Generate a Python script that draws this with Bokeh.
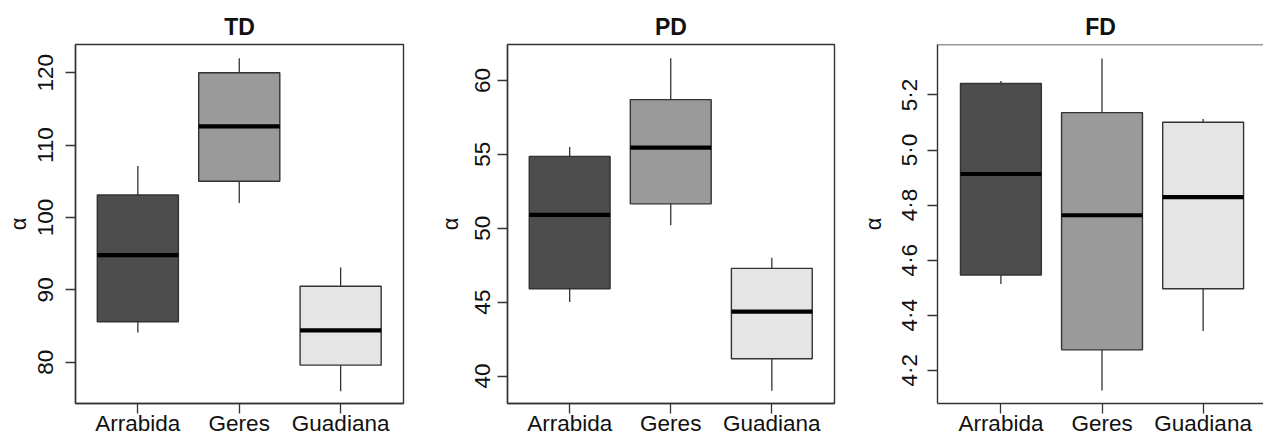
from bokeh.plotting import figure
from bokeh.layouts import row
from bokeh.models import FixedTicker, Range1d, Span
from bokeh.embed import file_html
from bokeh.resources import INLINE

sites = ["Arrabida", "Geres", "Guadiana"]
colors = ["#4d4d4d", "#9a9a9a", "#e5e5e5"]

# TD
td_low = [84.1, 102.0, 76.0]
td_q1 = [85.6, 105.0, 79.6]
td_med = [94.8, 112.6, 84.4]
td_q3 = [103.1, 120.0, 90.5]
td_high = [107.1, 122.0, 93.1]
td_ticks = [80, 90, 100, 110, 120]
td_labels = ["80", "90", "100", "110", "120"]

# PD
pd_low = [45.0, 50.2, 39.0]
pd_q1 = [45.9, 51.65, 41.17]
pd_med = [50.9, 55.45, 44.35]
pd_q3 = [54.86, 58.7, 47.28]
pd_high = [55.5, 61.5, 48.0]
pd_ticks = [40, 45, 50, 55, 60]
pd_labels = ["40", "45", "50", "55", "60"]

# FD
fd_low = [4.513, 4.126, 4.342]
fd_q1 = [4.546, 4.274, 4.496]
fd_med = [4.913, 4.763, 4.829]
fd_q3 = [5.242, 5.136, 5.101]
fd_high = [5.251, 5.333, 5.113]
fd_ticks = [4.2, 4.4, 4.6, 4.8, 5.0, 5.2]
fd_labels = ["4\u00b72", "4\u00b74", "4\u00b76", "4\u00b78", "5\u00b70", "5\u00b72"]

FONT = "Liberation Sans"
LINE = "#333333"
TXT = "#111111"


def panel(title, low, q1, med, q3, high, ticks, labels, yr, xr, w, bl, br,
          lab_so, alpha_so, last=False):
    p = figure(width=w, height=441, output_backend="svg", toolbar_location=None,
               x_range=Range1d(*xr), y_range=Range1d(*yr),
               min_border_left=bl, min_border_right=br, min_border_top=44, min_border_bottom=38,
               title=title)
    p.title.align = "center"
    p.title.text_font = FONT
    p.title.text_font_size = "23px"
    p.title.text_font_style = "bold"
    p.title.text_color = TXT
    p.title.standoff = 10
    p.xgrid.visible = False
    p.ygrid.visible = False
    p.background_fill_color = "white"
    p.border_fill_color = "white"
    if last:
        p.outline_line_color = None
        p.add_layout(Span(location=yr[1], dimension="width", line_color=LINE, line_width=1.4))
    else:
        p.outline_line_color = LINE
        p.outline_line_width = 1.4

    xs = [i + 1 for i in range(len(sites))]
    x0 = [x - 0.4 for x in xs]
    x1 = [x + 0.4 for x in xs]
    p.segment(x0=xs, y0=q3, x1=xs, y1=high, line_color=LINE, line_width=1.3)
    p.segment(x0=xs, y0=q1, x1=xs, y1=low, line_color=LINE, line_width=1.3)
    p.vbar(x=xs, width=0.8, bottom=q1, top=q3, fill_color=colors,
           line_color=LINE, line_width=1.4)
    p.segment(x0=x0, y0=med, x1=x1, y1=med, line_color="black", line_width=4.2)

    p.xaxis.ticker = FixedTicker(ticks=xs)
    p.xaxis.major_label_overrides = {x: s for x, s in zip(xs, sites)}
    p.yaxis.ticker = FixedTicker(ticks=ticks)
    p.yaxis.major_label_overrides = {t: s for t, s in zip(ticks, labels)}
    p.yaxis.major_label_orientation = "vertical"
    p.yaxis.axis_label = "\u03b1"
    for ax in (p.xaxis[0], p.yaxis[0]):
        ax.axis_line_color = LINE
        ax.axis_line_width = 1.4
        ax.major_tick_line_color = LINE
        ax.major_tick_line_width = 1.3
        ax.major_tick_out = 10
        ax.major_tick_in = 0
        ax.minor_tick_line_color = None
        ax.major_label_text_font = FONT
        ax.major_label_text_font_size = "22.5px"
        ax.major_label_text_color = TXT
        ax.axis_label_text_font = FONT
        ax.axis_label_text_font_size = "22px"
        ax.axis_label_text_font_style = "normal"
        ax.axis_label_text_color = TXT
    p.xaxis.major_label_standoff = -3
    p.yaxis.major_label_standoff = lab_so
    p.yaxis.axis_label_standoff = alpha_so
    return p


p1 = panel("TD", td_low, td_q1, td_med, td_q3, td_high, td_ticks, td_labels,
           (74.3, 123.9), (0.385, 3.62), 434, 75, 31, 12, 5)
p2 = panel("PD", pd_low, pd_q1, pd_med, pd_q3, pd_high, pd_ticks, pd_labels,
           (38.14, 62.43), (0.385, 3.62), 419, 72, 19, 7, 10)
p3 = panel("FD", fd_low, fd_q1, fd_med, fd_q3, fd_high, fd_ticks, fd_labels,
           (4.079, 5.3835), (0.373, 3.597), 410, 84, 0, 5, 9, last=True)

p = row(p1, p2, p3, spacing=0)
open("out.html", "w").write(file_html(p, INLINE))
